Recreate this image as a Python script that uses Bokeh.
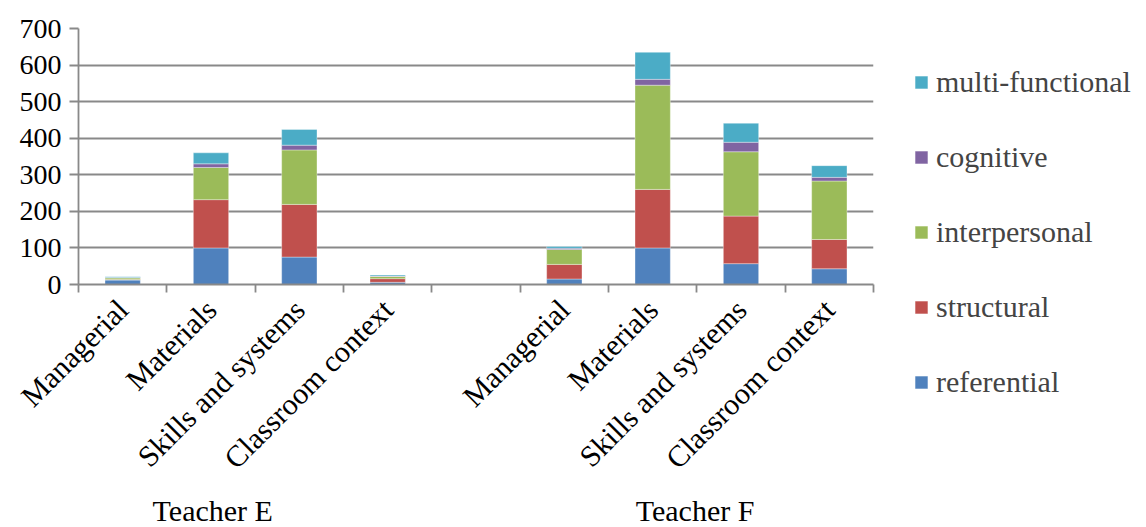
from math import pi
from bokeh.plotting import figure
from bokeh.models import (Range1d, FixedTicker, LinearAxis, Legend, LegendItem)
from bokeh.embed import file_html
from bokeh.resources import INLINE

# ---- data ----
teachers = ["Teacher E", "Teacher F"]
categories = ["Managerial", "Materials", "Skills and systems", "Classroom context"]
series = ["referential", "structural", "interpersonal", "cognitive", "multi-functional"]
colors = ["#4F81BD", "#C0504D", "#9BBB59", "#8064A2", "#4BACC6"]

E_referential = [12, 100, 75, 6]
E_structural = [2, 132, 144, 10]
E_interpersonal = [4, 88, 149, 6]
E_cognitive = [1, 10, 13, 1]
E_multi = [2, 30, 43, 3]

F_referential = [15, 100, 57, 43]
F_structural = [40, 160, 130, 80]
F_interpersonal = [41, 285, 176, 160]
F_cognitive = [3, 16, 26, 10]
F_multi = [5, 74, 52, 32]

y_ticks = [0, 100, 200, 300, 400, 500, 600, 700]

# ---- layout of category slots (4 + gap + 4) ----
n_cat = len(categories)
slot_E = [i + 0.5 for i in range(n_cat)]
slot_F = [i + n_cat + 1.5 for i in range(n_cat)]
xs = slot_E + slot_F
n_slots = 2 * n_cat + 1

data = {
    "x": xs,
    "referential": E_referential + F_referential,
    "structural": E_structural + F_structural,
    "interpersonal": E_interpersonal + F_interpersonal,
    "cognitive": E_cognitive + F_cognitive,
    "multi-functional": E_multi + F_multi,
}

FONT = "Liberation Serif"
GRAY = "#898989"

p = figure(frame_width=795, frame_height=256,
           min_border_left=78, min_border_top=28, min_border_right=265, min_border_bottom=235,
           x_range=Range1d(0, n_slots), y_range=Range1d(0, 700),
           output_backend="svg", toolbar_location=None, tools="")
p.outline_line_color = None
p.xgrid.grid_line_color = None
p.ygrid.grid_line_color = GRAY
p.ygrid.grid_line_width = 1.8
p.ygrid.ticker = FixedTicker(ticks=y_ticks)

renderers = p.vbar_stack(series, x="x", width=0.4, source=data, color=colors,
                         line_color="white", line_width=0.6, line_alpha=0.6)

# y axis
ya = p.yaxis[0]
ya.ticker = FixedTicker(ticks=y_ticks)
ya.axis_line_color = GRAY
ya.axis_line_width = 1.8
ya.major_tick_line_color = GRAY
ya.major_tick_line_width = 1.8
ya.major_tick_out = 9
ya.major_tick_in = 0
ya.minor_tick_line_color = None
ya.major_label_text_font = FONT
ya.major_label_text_font_size = "28px"
ya.major_label_text_color = "black"
ya.major_label_standoff = 8

# x axis: tick marks at slot boundaries
xa = p.xaxis[0]
xa.ticker = FixedTicker(ticks=list(range(n_slots + 1)))
xa.major_label_overrides = {i: "" for i in range(n_slots + 1)}
xa.major_label_text_font_size = "1px"
xa.major_label_standoff = 0
xa.axis_line_color = GRAY
xa.axis_line_width = 1.8
xa.major_tick_line_color = GRAY
xa.major_tick_line_width = 1.8
xa.major_tick_out = 8
xa.major_tick_in = 0
xa.minor_tick_line_color = None

# category labels (rotated)
xb = LinearAxis(ticker=FixedTicker(ticks=xs),
                major_label_overrides={x: c for x, c in zip(xs, categories + categories)})
xb.axis_line_color = None
xb.major_tick_line_color = None
xb.major_tick_out = 0
xb.major_tick_in = 0
xb.minor_tick_line_color = None
xb.major_label_orientation = pi / 4
xb.major_label_text_font = FONT
xb.major_label_text_font_size = "30px"
xb.major_label_text_color = "black"
xb.major_label_standoff = 12
p.add_layout(xb, "below")

# teacher group labels
group_pos = [1.52, 6.98]
xc = LinearAxis(ticker=FixedTicker(ticks=group_pos),
                major_label_overrides={g: t for g, t in zip(group_pos, teachers)})
xc.axis_line_color = None
xc.major_tick_line_color = None
xc.major_tick_out = 0
xc.major_tick_in = 0
xc.minor_tick_line_color = None
xc.major_label_orientation = "horizontal"
xc.major_label_text_font = FONT
xc.major_label_text_font_size = "30px"
xc.major_label_text_color = "black"
xc.major_label_standoff = 4
p.add_layout(xc, "below")

# legend (reversed order, outside on the right)
items = [LegendItem(label=s, renderers=[r]) for s, r in zip(series, renderers)][::-1]
legend = Legend(items=items, location=(40, -115),
                glyph_width=16, glyph_height=16, label_height=34, spacing=41,
                label_standoff=7, padding=0, margin=0,
                label_text_font=FONT, label_text_font_size="30px",
                border_line_color=None, background_fill_alpha=0)
p.add_layout(legend, "right")

open("out.html", "w").write(file_html(p, INLINE))
